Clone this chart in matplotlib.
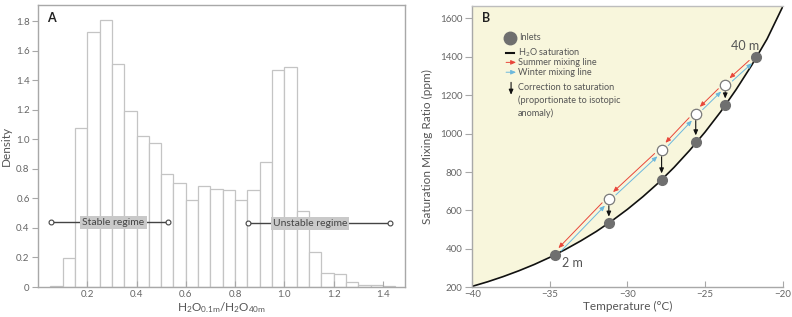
import numpy as np
import matplotlib.pyplot as plt
from matplotlib import transforms
from matplotlib.patches import FancyArrowPatch
from matplotlib.lines import Line2D

plt.rcParams['font.family'] = ['Lato', 'DejaVu Sans']
plt.rcParams['mathtext.fontset'] = 'custom'
plt.rcParams['mathtext.rm'] = 'Lato'
plt.rcParams['mathtext.default'] = 'regular'

# ---- panel A data: histogram of H2O ratio
bin_left = [0.05, 0.10, 0.15, 0.20, 0.25, 0.30, 0.35, 0.40, 0.45, 0.50,
            0.55, 0.60, 0.65, 0.70, 0.75, 0.80, 0.85, 0.90, 0.95, 1.00,
            1.05, 1.10, 1.15, 1.20, 1.25, 1.30, 1.35, 1.40]
density = [0.007, 0.195, 1.08, 1.73, 1.81, 1.51, 1.195, 1.02, 0.975, 0.763,
           0.705, 0.592, 0.682, 0.666, 0.655, 0.592, 0.655, 0.849, 1.473, 1.491,
           0.515, 0.238, 0.095, 0.086, 0.037, 0.016, 0.011, 0.010]
bin_width = 0.05

regime_names = ['Stable regime', 'Unstable regime']
regime_start = [0.053, 0.851]
regime_end = [0.527, 1.428]
regime_level = [0.437, 0.432]
regime_label_x = [0.306, 1.104]

# ---- panel B data
sat_T = [-40, -39, -38, -37, -36, -35, -34, -33, -32, -31, -30,
         -29, -28, -27, -26, -25, -24, -23, -22, -21, -20]
sat_ppm = [205, 229, 256, 286, 319, 356, 397, 442, 491, 546, 606,
           672, 744, 824, 912, 1008, 1113, 1229, 1355, 1493, 1660]

inlet_T = [-34.7, -31.2, -27.8, -25.6, -23.7, -21.7]
inlet_ppm = [368, 535, 760, 958, 1150, 1400]
# uncorrected (mixed) values for the intermediate inlets
mix_T = [-31.2, -27.8, -25.6, -23.7]
mix_ppm = [661, 916, 1104, 1254]

grey_txt = '#555555'
tick_col = '#666666'
spine_col = '#a8a8a8'

fig = plt.figure(figsize=(7.92, 3.17), dpi=100)
axA = fig.add_axes([0.048, 0.0946, 0.4634, 0.8896])
axB = fig.add_axes([0.5963, 0.0937, 0.3919, 0.888])

# ================= panel A
axA.bar(bin_left, density, width=bin_width, align='edge', facecolor='white',
        edgecolor='#c4c4c4', linewidth=0.9, zorder=1)
for name, s, e, lev, lx in zip(regime_names, regime_start, regime_end, regime_level, regime_label_x):
    axA.plot([s, e], [lev, lev], color='#444444', lw=1.0, marker='o', ms=3.5,
             mfc='white', mec='#444444', mew=0.8, zorder=3)
    axA.text(lx, lev, name, ha='center', va='center', fontsize=7.5, color='#444444',
             zorder=4, bbox=dict(boxstyle='square,pad=0.2', fc='#c9c9c9', ec='none'))

axA.set_xlim(0, 1.49)
axA.set_ylim(0, 1.91)
axA.set_xticks([0.2, 0.4, 0.6, 0.8, 1.0, 1.2, 1.4])
axA.set_xticklabels(['0.2', '0.4', '0.6', '0.8', '1.0', '1.2', '1.4'])
axA.set_yticks([0, 0.2, 0.4, 0.6, 0.8, 1.0, 1.2, 1.4, 1.6, 1.8])
axA.set_yticklabels(['0', '0.2', '0.4', '0.6', '0.8', '1.0', '1.2', '1.4', '1.6', '1.8'])
axA.tick_params(axis='x', direction='in', length=4, width=0.8, colors=spine_col,
                labelcolor=tick_col, labelsize=7, pad=2)
axA.tick_params(axis='y', direction='out', length=4, width=0.8, colors=spine_col,
                labelcolor=tick_col, labelsize=7, pad=2)
for sp in axA.spines.values():
    sp.set_color(spine_col)
    sp.set_linewidth(1.0)
axA.set_ylabel('Density', fontsize=8.5, color=grey_txt, labelpad=3)
axA.set_xlabel('H$_2$O$_{0.1m}$/H$_2$O$_{40m}$', fontsize=8.5, color=grey_txt, labelpad=1)
axA.text(0.024, 0.955, 'A', transform=axA.transAxes, fontsize=9, fontweight='bold',
         va='center', ha='left', color='#222222')

# ================= panel B
ytop = 1665
axB.fill_between(sat_T, sat_ppm, ytop, color='#f8f6dc', lw=0, zorder=0)
axB.plot(sat_T, sat_ppm, color='#111111', lw=1.2, zorder=2)

red = '#e8463a'
blue = '#6cb8dc'
off = 1.4
tr_red = transforms.offset_copy(axB.transData, fig=fig, x=-off, y=off, units='dots')
tr_blue = transforms.offset_copy(axB.transData, fig=fig, x=off, y=-off, units='dots')

chain_T = [inlet_T[0]] + mix_T + [inlet_T[-1]]
chain_ppm = [inlet_ppm[0]] + mix_ppm + [inlet_ppm[-1]]
for i in range(len(chain_T) - 1):
    lo = (chain_T[i], chain_ppm[i])
    hi = (chain_T[i + 1], chain_ppm[i + 1])
    axB.add_patch(FancyArrowPatch(hi, lo, transform=tr_red, arrowstyle='-|>,head_length=3,head_width=1.3',
                                  color=red, lw=0.7, shrinkA=5.5, shrinkB=5.5, zorder=3))
    axB.add_patch(FancyArrowPatch(lo, hi, transform=tr_blue, arrowstyle='-|>,head_length=3,head_width=1.3',
                                  color=blue, lw=0.7, shrinkA=5.5, shrinkB=5.5, zorder=3))

for t, m in zip(mix_T, mix_ppm):
    p_in = inlet_ppm[inlet_T.index(t)]
    axB.add_patch(FancyArrowPatch((t, m), (t, p_in), arrowstyle='-|>,head_length=3,head_width=1.3',
                                  color='#111111', lw=0.8, shrinkA=5, shrinkB=4.5, zorder=3))

axB.plot(inlet_T, inlet_ppm, 'o', ms=7, color='#6f6f6f', mec='#6f6f6f', zorder=5)
axB.plot(mix_T, mix_ppm, 'o', ms=7.5, mfc='white', mec='#7a7a7a', mew=0.9, zorder=5)

axB.annotate('40 m', (inlet_T[-1], inlet_ppm[-1]), xytext=(-8, 8), textcoords='offset points',
             ha='center', va='center', fontsize=9, color=grey_txt)
axB.annotate('2 m', (inlet_T[0], inlet_ppm[0]), xytext=(13, -6), textcoords='offset points',
             ha='center', va='center', fontsize=9, color=grey_txt)

# legend drawn by hand
ta = axB.transAxes
axB.add_line(Line2D([0.122], [0.886], transform=ta, marker='o', ms=9, color='#6f6f6f', ls='none'))
axB.add_line(Line2D([0.109, 0.135], [0.834, 0.834], transform=ta, color='#111111', lw=1.5))
axB.add_patch(FancyArrowPatch((0.109, 0.799), (0.141, 0.799), transform=ta,
                              arrowstyle='-|>,head_length=3,head_width=1.3', color=red, lw=0.7,
                              shrinkA=0, shrinkB=0))
axB.add_patch(FancyArrowPatch((0.109, 0.764), (0.141, 0.764), transform=ta,
                              arrowstyle='-|>,head_length=3,head_width=1.3', color=blue, lw=0.7,
                              shrinkA=0, shrinkB=0))
axB.add_patch(FancyArrowPatch((0.125, 0.728), (0.125, 0.684), transform=ta,
                              arrowstyle='-|>,head_length=3,head_width=1.3', color='#111111', lw=0.8,
                              shrinkA=0, shrinkB=0))
leg_fs = 6.6
axB.text(0.152, 0.889, 'Inlets', transform=ta, fontsize=leg_fs, color=grey_txt, va='center')
axB.text(0.148, 0.834, 'H$_2$O saturation', transform=ta, fontsize=leg_fs, color=grey_txt, va='center')
axB.text(0.148, 0.799, 'Summer mixing line', transform=ta, fontsize=leg_fs, color=grey_txt, va='center')
axB.text(0.148, 0.764, 'Winter mixing line', transform=ta, fontsize=leg_fs, color=grey_txt, va='center')
axB.text(0.148, 0.724, 'Correction to saturation\n(proportionate to isotopic\nanomaly)',
         transform=ta, fontsize=leg_fs, color=grey_txt, va='top', linespacing=1.45)

axB.set_xlim(-40, -20)
axB.set_ylim(200, ytop)
axB.set_xticks([-40, -35, -30, -25, -20])
axB.set_yticks([200, 400, 600, 800, 1000, 1200, 1400, 1600])
axB.tick_params(axis='x', direction='in', length=4, width=0.8, colors=spine_col,
                labelcolor=tick_col, labelsize=7, pad=2)
axB.tick_params(axis='y', direction='out', length=5, width=0.8, colors=spine_col,
                labelcolor=tick_col, labelsize=7, pad=2)
for sp in axB.spines.values():
    sp.set_color(spine_col)
    sp.set_linewidth(1.0)
axB.spines['right'].set_visible(False)
axB.spines['top'].set_color('#bdbdbd')
axB.set_ylabel('Saturation Mixing Ratio (ppm)', fontsize=8.5, color=grey_txt, labelpad=5)
axB.set_xlabel('Temperature (\u00b0C)', fontsize=8.5, color=grey_txt, labelpad=1)
axB.text(0.03, 0.955, 'B', transform=ta, fontsize=9, fontweight='bold',
         va='center', ha='left', color='#222222')

fig.savefig('out.png', dpi=100)
